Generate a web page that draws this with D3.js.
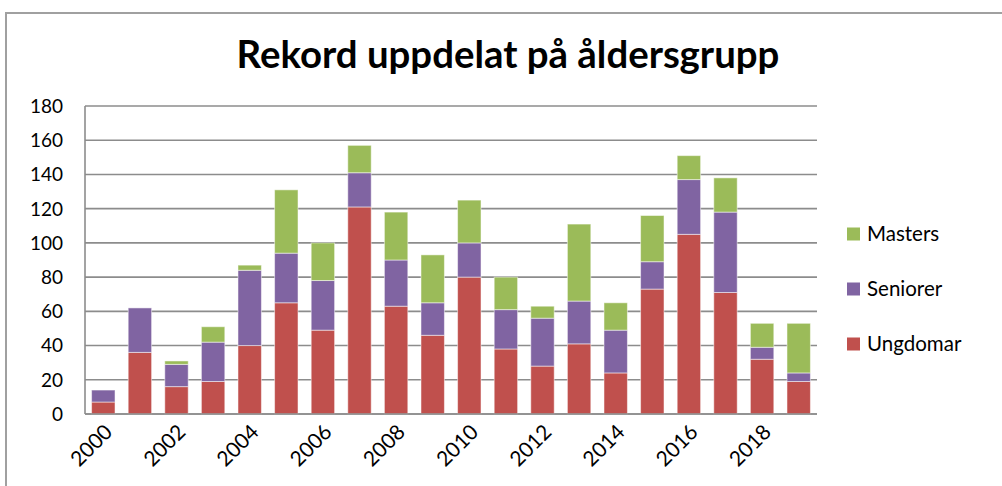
<!DOCTYPE html>
<html>
<head>
<meta charset="utf-8">
<script src="https://cdn.jsdelivr.net/npm/d3@7"></script>
<style>
  html, body { margin: 0; padding: 0; background: #fff; }
  svg { display: block; font-family: Lato, "Open Sans", sans-serif; }
</style>
</head>
<body>
<div id="chart"></div>
<script>
// data
const years = d3.range(2000, 2020).map(String);
const ungdomar = [7, 36, 16, 19, 40, 65, 49, 121, 63, 46, 80, 38, 28, 41, 24, 73, 105, 71, 32, 19];
const seniorer = [7, 26, 13, 23, 44, 29, 29, 20, 27, 19, 20, 23, 28, 25, 25, 16, 32, 47, 7, 5];
const masters  = [0, 0, 2, 9, 3, 37, 22, 16, 28, 28, 25, 19, 7, 45, 16, 27, 14, 20, 14, 29];
const seriesNames = ["Ungdomar", "Seniorer", "Masters"];
const colors = ["#c0504d", "#8064a2", "#9bbb59"];
const yTicks = d3.range(0, 181, 20);

const width = 1002, height = 486;
const plot = { left: 85, right: 817, top: 106, bottom: 414 };

const svg = d3.select("#chart").append("svg")
    .attr("width", width)
    .attr("height", height);

// outer chart frame (only top and left visible)
svg.append("rect")
    .attr("x", 6).attr("y", 13)
    .attr("width", 1100).attr("height", 600)
    .attr("fill", "none")
    .attr("stroke", "#a0a0a0")
    .attr("stroke-width", 2);

const title = svg.append("text")
    .attr("x", 508).attr("y", 68)
    .attr("text-anchor", "middle")
    .attr("font-weight", "bold")
    .attr("font-size", 32)
    .attr("fill", "#000")
    .text("Rekord uppdelat på åldersgrupp");
// fit title to the reference width
const tw = title.node().getComputedTextLength();
title.attr("font-size", 32 * 543 / tw);

const table = years.map((y, i) => ({ year: y, Ungdomar: ungdomar[i], Seniorer: seniorer[i], Masters: masters[i] }));
const stacked = d3.stack().keys(seriesNames)(table);

const x = d3.scaleBand()
    .domain(years)
    .range([plot.left, plot.right])
    .paddingInner(0.36)
    .paddingOuter(0.18);

const y = d3.scaleLinear()
    .domain([0, 180])
    .range([plot.bottom, plot.top]);

// gridlines
svg.append("g")
    .selectAll("line")
    .data(yTicks)
    .join("line")
    .attr("x1", plot.left).attr("x2", plot.right)
    .attr("y1", d => y(d)).attr("y2", d => y(d))
    .attr("stroke", "#8c8c8c")
    .attr("stroke-width", 1.6);

// y axis line
svg.append("line")
    .attr("x1", plot.left).attr("x2", plot.left)
    .attr("y1", y(180)).attr("y2", y(0))
    .attr("stroke", "#8c8c8c")
    .attr("stroke-width", 1.6);

// y labels
svg.append("g")
    .selectAll("text")
    .data(yTicks)
    .join("text")
    .attr("x", 63)
    .attr("y", d => y(d))
    .attr("dy", "0.36em")
    .attr("text-anchor", "end")
    .attr("font-size", 19)
    .attr("fill", "#000")
    .text(d => d);

// bars
svg.append("g")
    .selectAll("g")
    .data(stacked)
    .join("g")
    .attr("fill", (d, i) => colors[i])
    .selectAll("rect")
    .data(d => d.filter(s => s[1] > s[0]))
    .join("rect")
    .attr("x", d => x(d.data.year))
    .attr("width", x.bandwidth())
    .attr("y", d => y(d[1]))
    .attr("height", d => y(d[0]) - y(d[1]))
    .attr("stroke", "#ffffff")
    .attr("stroke-opacity", 0.5)
    .attr("stroke-width", 1);

// bottom axis line (on top of bars)
svg.append("line")
    .attr("x1", plot.left).attr("x2", plot.right)
    .attr("y1", y(0)).attr("y2", y(0))
    .attr("stroke", "#8c8c8c")
    .attr("stroke-width", 1.6);

// x labels, every other year, rotated
svg.append("g")
    .selectAll("text")
    .data(years.filter((d, i) => i % 2 === 0))
    .join("text")
    .attr("transform", d => `translate(${x(d) + x.bandwidth() / 2 + 5},${y(0) + 14}) rotate(-45)`)
    .attr("text-anchor", "end")
    .attr("dy", "0.36em")
    .attr("font-size", 21)
    .attr("fill", "#000")
    .text(d => d);

// legend
const legendItems = ["Masters", "Seniorer", "Ungdomar"];
const legendColors = [colors[2], colors[1], colors[0]];
const legend = svg.append("g")
    .selectAll("g")
    .data(legendItems)
    .join("g")
    .attr("transform", (d, i) => `translate(847,${234 + i * 55})`);

legend.append("rect")
    .attr("x", 0).attr("y", -6.5)
    .attr("width", 13).attr("height", 13)
    .attr("fill", (d, i) => legendColors[i]);

legend.append("text")
    .attr("x", 20)
    .attr("dy", "0.36em")
    .attr("font-size", 20.5)
    .attr("fill", "#000")
    .text(d => d);
</script>
</body>
</html>
